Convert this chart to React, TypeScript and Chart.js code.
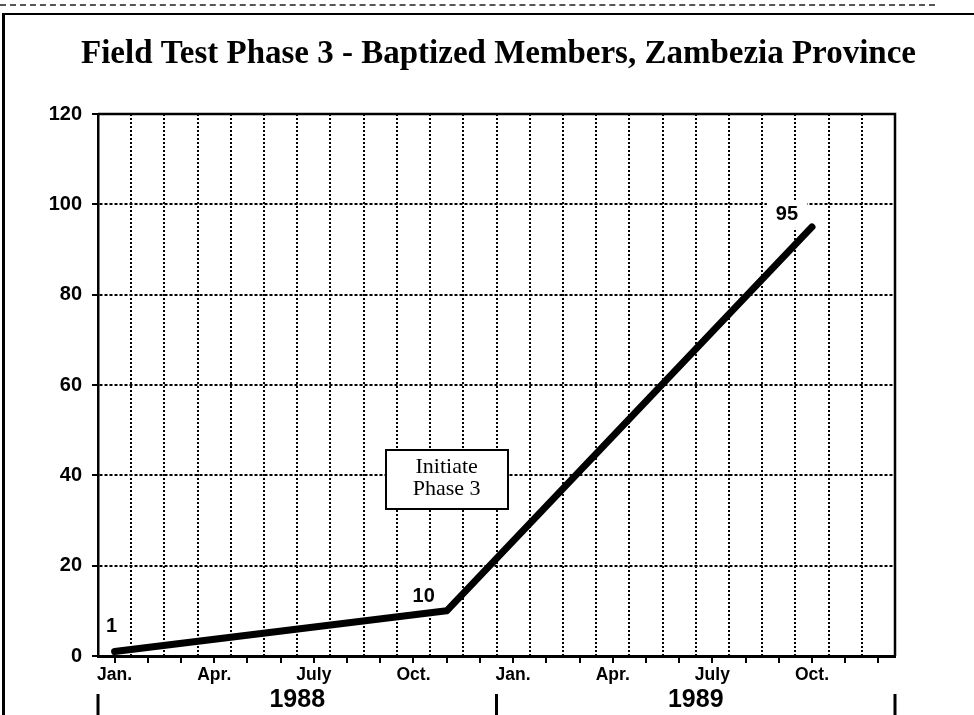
import React, { useEffect, useRef } from 'react';
import { Chart, registerables } from 'chart.js';

Chart.register(...registerables);

// ---------- data ----------
const titleText = 'Field Test Phase 3 - Baptized Members, Zambezia Province';
const monthIndex = [0, 10, 21]; // months since Jan. 1988
const members = [1, 10, 95];
const pointLabels = ['1', '10', '95'];
const monthLabels = [
  'Jan.', '', '', 'Apr.', '', '', 'July', '', '', 'Oct.', '', '',
  'Jan.', '', '', 'Apr.', '', '', 'July', '', '', 'Oct.', '', '',
];
const yearLabels = ['1988', '1989'];
const yTicks = [0, 20, 40, 60, 80, 100, 120];
const annotationLines = ['Initiate', 'Phase 3'];
const annotationMonth = 10;
const annotationValue = 39;

// ---------- styles ----------
const sans = '"Liberation Sans", Arial, Helvetica, sans-serif';
const serif = '"Liberation Serif", "Times New Roman", Times, serif';
const monthCount = monthLabels.length;
const xMin = -0.5;
const xMax = monthCount - 0.5;
const xTickValues: number[] = [];
for (let k = -1; k <= monthCount * 2 - 1; k++) xTickValues.push(k / 2);
const yearCenter = (i: number) => i * 12 + 5.5;
const yearBounds = () => {
  const b: number[] = [];
  for (let i = 0; i <= yearLabels.length; i++) b.push(i * 12 - 0.5);
  return b;
};
const isYearTick = (v: number) => yearLabels.some((_, i) => yearCenter(i) === v);

const labelOffsets: [number, number][] = [[-3, -25], [-23, -14], [-25, -12]];

const decorPlugin = {
  id: 'decor',
  beforeDatasetsDraw(chart: any) {
    const { ctx, chartArea: a } = chart;
    const meta = chart.getDatasetMeta(0);
    ctx.save();
    ctx.beginPath();
    ctx.rect(a.left + 3, a.top + 3, a.right - a.left - 6, a.bottom - a.top - 6);
    ctx.clip();
    ctx.font = `bold 20px ${sans}`;
    ctx.fillStyle = '#fff';
    meta.data.forEach((pt: any, i: number) => {
      const [dx, dy] = labelOffsets[i] || [0, -20];
      const w = ctx.measureText(pointLabels[i]).width;
      ctx.fillRect(pt.x + dx - w / 2 - 9, pt.y + dy - 15, w + 18, 28);
    });
    ctx.restore();
  },
  afterDatasetsDraw(chart: any) {
    const { ctx, scales } = chart;
    const meta = chart.getDatasetMeta(0);
    ctx.save();
    // point labels
    ctx.font = `bold 20px ${sans}`;
    ctx.fillStyle = '#000';
    ctx.textAlign = 'center';
    ctx.textBaseline = 'middle';
    meta.data.forEach((pt: any, i: number) => {
      const [dx, dy] = labelOffsets[i] || [0, -20];
      ctx.fillText(pointLabels[i], pt.x + dx, pt.y + dy);
    });
    // annotation box
    const cx = scales.x.getPixelForValue(annotationMonth);
    const cy = scales.y.getPixelForValue(annotationValue);
    const bw = 122;
    const bh = 59;
    const left = Math.round(cx - bw / 2);
    const top = Math.round(cy - bh / 2);
    ctx.fillStyle = '#fff';
    ctx.fillRect(left, top, bw, bh);
    ctx.strokeStyle = '#000';
    ctx.lineWidth = 2;
    ctx.strokeRect(left, top, bw, bh);
    ctx.fillStyle = '#000';
    ctx.font = `22px ${serif}`;
    ctx.textBaseline = 'alphabetic';
    annotationLines.forEach((t, i) => {
      ctx.fillText(t, cx, top + 23 + i * 22);
    });
    ctx.restore();
  },
  afterDraw(chart: any) {
    const { ctx, chartArea: a, scales } = chart;
    ctx.save();
    ctx.strokeStyle = '#000';
    // top & right frame of plot
    ctx.lineWidth = 2.5;
    ctx.beginPath();
    ctx.moveTo(a.left, a.top);
    ctx.lineTo(a.right, a.top);
    ctx.lineTo(a.right, a.bottom);
    ctx.stroke();
    // year separators
    ctx.lineWidth = 3;
    yearBounds().forEach((v) => {
      const x = scales.x.getPixelForValue(v);
      ctx.beginPath();
      ctx.moveTo(x, a.bottom + 38);
      ctx.lineTo(x, chart.height);
      ctx.stroke();
    });
    ctx.restore();
  },
};

export default function App() {
  const ref = useRef<HTMLCanvasElement | null>(null);

  useEffect(() => {
    if (!ref.current) return;
    const chart = new Chart(ref.current, {
      type: 'line',
      data: {
        datasets: [
          {
            data: monthIndex.map((m, i) => ({ x: m, y: members[i] })),
            borderColor: '#000',
            borderWidth: 7,
            pointRadius: 0,
            borderCapStyle: 'round',
            borderJoinStyle: 'round',
            tension: 0,
            fill: false,
          } as any,
        ],
      },
      options: {
        animation: false,
        responsive: false,
        devicePixelRatio: 1,
        events: [],
        layout: { padding: { left: 23, right: 0, top: 0, bottom: 0 } },
        plugins: {
          legend: { display: false },
          tooltip: { enabled: false },
          title: {
            display: true,
            text: titleText,
            color: '#000',
            font: { family: serif, size: 33, weight: 'bold', lineHeight: 1.2 },
            padding: { top: 34.2, bottom: 40.2 },
          },
        },
        scales: {
          x: {
            type: 'linear',
            position: 'bottom',
            min: xMin,
            max: xMax,
            afterBuildTicks: (s: any) => {
              s.ticks = xTickValues.map((v) => ({ value: v }));
            },
            afterFit: (s: any) => {
              s.height = 59;
            },
            grid: {
              display: true,
              drawOnChartArea: true,
              drawTicks: true,
              tickLength: 7,
              lineWidth: 2,
              tickWidth: 2,
              color: (c: any) =>
                c.tick && Number.isInteger(c.tick.value) ? 'rgba(0,0,0,0)' : '#000',
              tickColor: (c: any) =>
                c.tick && Number.isInteger(c.tick.value) ? '#000' : 'rgba(0,0,0,0)',
            },
            border: { display: true, color: '#000', width: 3, dash: [2, 2] },
            ticks: {
              autoSkip: false,
              maxRotation: 0,
              minRotation: 0,
              padding: 2,
              color: '#000',
              callback: (value: any) => {
                const v = Number(value);
                if (Number.isInteger(v) && v >= 0 && v < monthCount) return monthLabels[v];
                const yi = yearLabels.findIndex((_, i) => yearCenter(i) === v);
                if (yi >= 0) return ['', yearLabels[yi]];
                return '';
              },
              font: (c: any) =>
                c.tick && isYearTick(c.tick.value)
                  ? { family: sans, size: 25, weight: 'bold', lineHeight: 0.94 }
                  : { family: sans, size: 17.5, weight: 'bold', lineHeight: 1.2 },
            },
          },
          y: {
            type: 'linear',
            min: 0,
            max: 120,
            afterBuildTicks: (s: any) => {
              s.ticks = yTicks.map((v) => ({ value: v }));
            },
            afterFit: (s: any) => {
              s.width = 75;
            },
            grid: {
              color: '#000',
              lineWidth: 2,
              tickLength: 6,
              tickWidth: 2,
              tickColor: '#000',
            },
            border: { display: true, color: '#000', width: 2.5, dash: [3, 2] },
            ticks: {
              padding: 10,
              color: '#000',
              font: { family: sans, size: 20, weight: 'bold' },
            },
          },
          y2: {
            type: 'linear',
            position: 'right',
            min: 0,
            max: 1,
            grid: { display: false },
            border: { display: false },
            ticks: { display: false },
            afterFit: (s: any) => {
              s.width = 79;
            },
          },
        },
      } as any,
      plugins: [decorPlugin as any],
    });
    return () => chart.destroy();
  }, []);

  return (
    <div
      style={{
        position: 'absolute',
        left: 0,
        top: 0,
        width: 974,
        height: 715,
        overflow: 'hidden',
        background: '#fff',
      }}
    >
      <div
        style={{
          position: 'absolute',
          left: 0,
          top: 4,
          width: 935,
          borderTop: '2px dashed #555',
        }}
      />
      <div
        style={{
          position: 'absolute',
          left: 2,
          top: 13,
          width: 1000,
          height: 800,
          borderLeft: '3px solid #000',
          borderTop: '2px solid #000',
        }}
      />
      <canvas
        ref={ref}
        width={974}
        height={715}
        style={{ position: 'absolute', left: 0, top: 0, width: 974, height: 715 }}
      />
    </div>
  );
}
